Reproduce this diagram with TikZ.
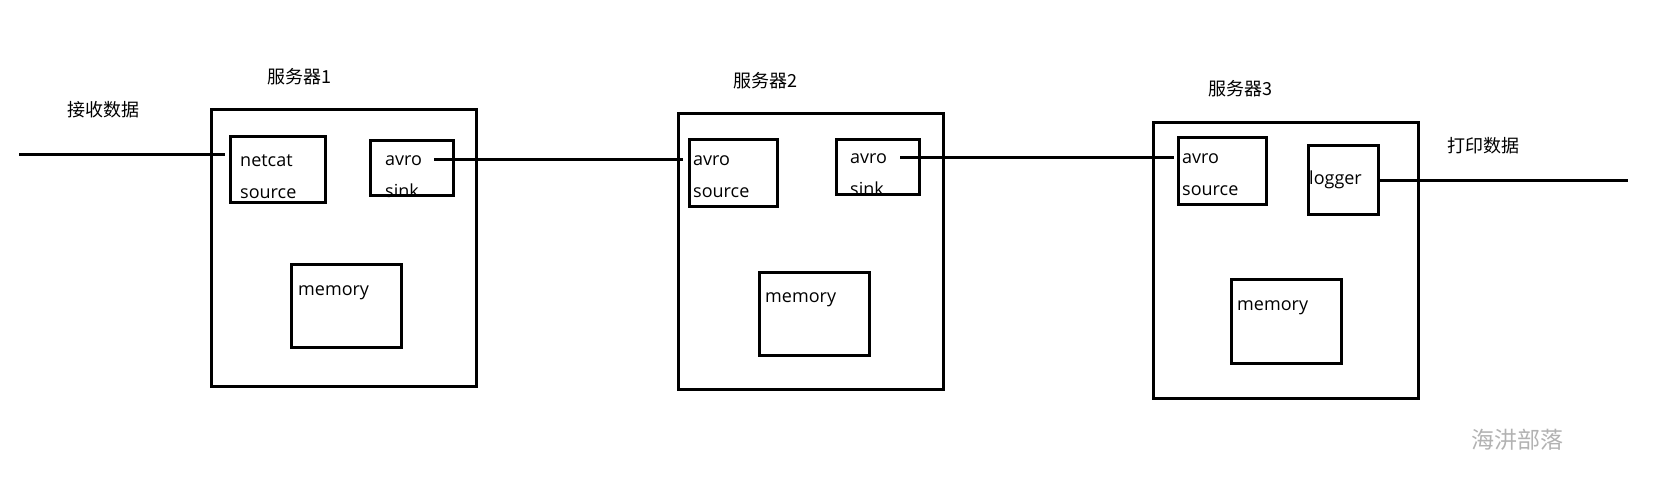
\documentclass[tikz,border=0pt]{standalone}
\usepackage{fontspec}
\setmainfont{Open Sans}
\newfontfamily\cjk{Noto Sans CJK SC}
\begin{document}
\begin{tikzpicture}[x=1pt,y=-1pt,
  box/.style={draw=black,line width=3pt,anchor=north west,inner sep=0pt},
  txt/.style={anchor=base west,inner sep=0pt,font=\fontsize{18}{20}\selectfont},
  lbl/.style={anchor=west,inner sep=0pt,font=\cjk\fontsize{18}{20}\selectfont},
  wire/.style={draw=black,line width=3pt}]
\useasboundingbox (0,0) rectangle (1665,493);
% server 1
\node[box,minimum width=265pt,minimum height=277pt] (s1) at (210,108) {};
\node[box,minimum width=95pt,minimum height=66pt] (nc) at (229,135) {};
\node[box,minimum width=83pt,minimum height=55pt] (k1) at (369,139) {};
\node[box,minimum width=110pt,minimum height=83pt] (m1) at (290,263) {};
\node[txt] (t1a) at (240,166) {netcat};
\node[txt] (t1b) at (240,198) {source};
\node[txt] (t1c) at (385,165) {avro};
\node[txt] (t1d) at (385,197) {sink};
\node[txt] (t1e) at (298,295) {memory};
\node[lbl] (l1) at (267,77) {服务器1};
\node[lbl] (lin) at (67,110) {接收数据};
% server 2
\node[box,minimum width=265pt,minimum height=276pt] (s2) at (677,112) {};
\node[box,minimum width=88pt,minimum height=67pt] (src2) at (688,138) {};
\node[box,minimum width=83pt,minimum height=55pt] (k2) at (835,138) {};
\node[box,minimum width=110pt,minimum height=83pt] (m2) at (758,271) {};
\node[txt] (t2a) at (693,165) {avro};
\node[txt] (t2b) at (693,197) {source};
\node[txt] (t2c) at (850,163) {avro};
\node[txt] (t2d) at (850,195) {sink};
\node[txt] (t2e) at (765,302) {memory};
\node[lbl] (l2) at (733,81) {服务器2};
% server 3
\node[box,minimum width=265pt,minimum height=276pt] (s3) at (1152,121) {};
\node[box,minimum width=88pt,minimum height=67pt] (src3) at (1177,136) {};
\node[box,minimum width=70pt,minimum height=69pt] (lg) at (1307,144) {};
\node[box,minimum width=110pt,minimum height=84pt] (m3) at (1230,278) {};
\node[txt] (t3a) at (1182,163) {avro};
\node[txt] (t3b) at (1182,195) {source};
\node[txt] (t3c) at (1309,184) {logger};
\node[txt] (t3e) at (1237,310) {memory};
\node[lbl] (l3) at (1208,89) {服务器3};
\node[lbl] (lout) at (1447,146) {打印数据};
% watermark
\node[anchor=west,inner sep=0pt,text=black!30,font=\cjk\fontsize{23}{25}\selectfont] (wm) at (1471,440) {海汫部落};
% connectors
\coordinate (in) at (19,154);
\coordinate (c1) at (434,159);
\coordinate (c2) at (900,157);
\coordinate (out) at (1628,180);
\draw[wire] (in) -- ([xshift=-4pt]in -| nc.west);
\draw[wire] (c1) -- ([xshift=-5pt]c1 -| src2.west);
\draw[wire] (c2) -- ([xshift=-3pt]c2 -| src3.west);
\draw[wire] (lg.east) -- (lg.east -| out);
\end{tikzpicture}
\end{document}
